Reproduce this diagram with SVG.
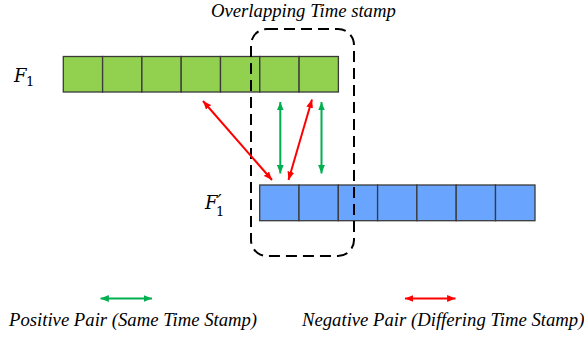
<svg xmlns="http://www.w3.org/2000/svg" width="584" height="339" viewBox="0 0 584 339">
<style>
.cg{fill:#92D050;stroke:#3A3A3A;stroke-width:1.3}
.cb{fill:#69A5FF;stroke:#3A3A3A;stroke-width:1.3}
.t{font-family:"Liberation Serif","Times New Roman",serif;font-style:italic;fill:#000}
.m{font-family:"DejaVu Serif",serif;font-style:italic;font-size:18px;fill:#000}
.sub{font-style:normal;font-size:13px}
.g{stroke:#00B050;stroke-width:2;fill:none}
.r{stroke:#FF0000;stroke-width:2;fill:none}
</style>
<defs>
<marker id="ag" viewBox="0 0 10 10" refX="10" refY="5" markerWidth="4.2" markerHeight="3.4" orient="auto-start-reverse" markerUnits="strokeWidth" preserveAspectRatio="none"><path d="M0,0 L10,5 L0,10 Z" fill="#00B050"/></marker>
<marker id="ar" viewBox="0 0 10 10" refX="10" refY="5" markerWidth="4.2" markerHeight="3.4" orient="auto-start-reverse" markerUnits="strokeWidth" preserveAspectRatio="none"><path d="M0,0 L10,5 L0,10 Z" fill="#FF0000"/></marker>
</defs>
<text class="t" x="211" y="17" font-size="18.7">Overlapping Time stamp</text>
<g id="F1">
<text class="m" x="14" y="82">F<tspan class="sub" x="26" y="86">1</tspan></text>
<rect class="cg" x="63.3" y="56.5" width="39.3" height="35.5"/>
<rect class="cg" x="102.6" y="56.5" width="39.3" height="35.5"/>
<rect class="cg" x="141.9" y="56.5" width="39.3" height="35.5"/>
<rect class="cg" x="181.2" y="56.5" width="39.3" height="35.5"/>
<rect class="cg" x="220.5" y="56.5" width="39.3" height="35.5"/>
<rect class="cg" x="259.8" y="56.5" width="39.3" height="35.5"/>
<rect class="cg" x="299.1" y="56.5" width="39.3" height="35.5"/>
</g>
<g id="F1prime">
<text class="m" x="205" y="209">F<tspan class="sub" x="216" y="216">1</tspan></text>
<text class="m" x="217.5" y="208" font-size="19">′</text>
<rect class="cb" x="259.7" y="185" width="39.3" height="35.7"/>
<rect class="cb" x="299" y="185" width="39.3" height="35.7"/>
<rect class="cb" x="338.3" y="185" width="39.3" height="35.7"/>
<rect class="cb" x="377.6" y="185" width="39.3" height="35.7"/>
<rect class="cb" x="416.9" y="185" width="39.3" height="35.7"/>
<rect class="cb" x="456.2" y="185" width="39.3" height="35.7"/>
<rect class="cb" x="495.5" y="185" width="39.5" height="35.7"/>
</g>
<g id="overlap">
<rect x="251" y="29" width="103" height="227" rx="16" fill="none" stroke="#000" stroke-width="2" stroke-dasharray="11 6"/>
</g>
<g id="connectors">
<line class="r" x1="203" y1="101" x2="272" y2="180" marker-start="url(#ar)" marker-end="url(#ar)"/>
<line class="g" x1="280.3" y1="102" x2="280.3" y2="173.5" marker-start="url(#ag)" marker-end="url(#ag)"/>
<line class="r" x1="312" y1="99.5" x2="288.5" y2="180" marker-start="url(#ar)" marker-end="url(#ar)"/>
<line class="g" x1="321.5" y1="102" x2="321.5" y2="173.5" marker-start="url(#ag)" marker-end="url(#ag)"/>
</g>
<g id="legend">
<line class="g" x1="100.5" y1="298.5" x2="152" y2="298.5" marker-start="url(#ag)" marker-end="url(#ag)"/>
<line class="r" x1="405" y1="298.5" x2="455.5" y2="298.5" marker-start="url(#ar)" marker-end="url(#ar)"/>
<text class="t" x="9" y="326" font-size="18.7">Positive Pair (Same Time Stamp)</text>
<text class="t" x="302" y="326" font-size="18.7">Negative Pair (Differing Time Stamp)</text>
</g>
</svg>
